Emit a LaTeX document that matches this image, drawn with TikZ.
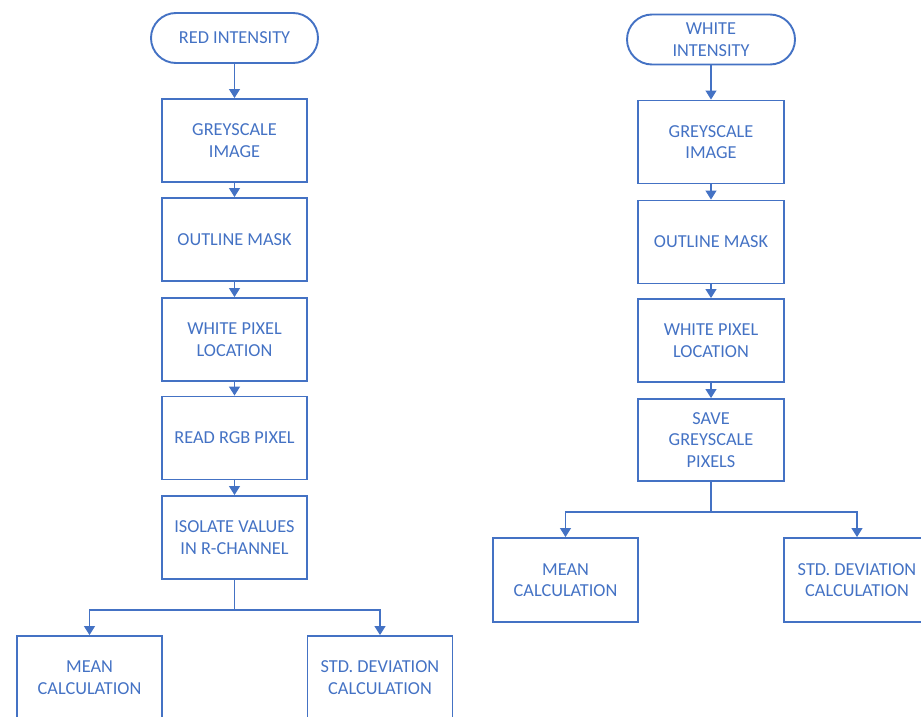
\documentclass[tikz,border=0pt]{standalone}
\usepackage{fontspec}
\setmainfont{Carlito}
\usetikzlibrary{arrows.meta}
\definecolor{flowblue}{HTML}{4472C4}
\tikzset{
  base/.style={draw=flowblue, line width=1.9pt, text=flowblue, align=center,
    font=\fontsize{18.3pt}{21.5pt}\selectfont, inner sep=0pt},
  procbox/.style={base, rectangle, minimum width=145pt, minimum height=83pt},
  termbox/.style={base, rectangle, rounded corners=25pt, minimum width=167pt, minimum height=50pt},
  link/.style={draw=flowblue, line width=1.1pt},
  arr/.style={link, -{Triangle[width=11pt,length=9pt]}}
}
\begin{document}
\begin{tikzpicture}[x=1pt, y=-1pt]
\useasboundingbox (0,0) rectangle (921,717);

% red intensity chain
\node[termbox] (t1) at (234.5,38) {RED INTENSITY};
\node[procbox] (g1) at (234.5,140.5) {GREYSCALE\\IMAGE};
\node[procbox] (o1) at (234.5,239.5) {OUTLINE MASK};
\node[procbox] (w1) at (234.5,339.5) {WHITE PIXEL\\LOCATION};
\node[procbox] (r1) at (234.5,438) {READ RGB PIXEL};
\node[procbox] (i1) at (234.5,537.5) {ISOLATE VALUES\\IN R-CHANNEL};
\node[procbox] (m1) at (89.5,677.5) {MEAN\\CALCULATION};
\node[procbox] (s1) at (380,677.5) {STD. DEVIATION\\CALCULATION};
\coordinate (b1) at (234.5,610);

\draw[arr] (t1) -- (g1);
\draw[arr] (g1) -- (o1);
\draw[arr] (o1) -- (w1);
\draw[arr] (w1) -- (r1);
\draw[arr] (r1) -- (i1);
\draw[link] (i1) -- (b1);
\draw[arr] (b1) -| (m1.north);
\draw[arr] (b1) -| (s1.north);

% white intensity chain
\node[termbox, minimum width=168pt] (t2) at (711,39.5) {WHITE\\INTENSITY};
\node[procbox, minimum width=146pt] (g2) at (711,142) {GREYSCALE\\IMAGE};
\node[procbox, minimum width=146pt] (o2) at (711,242) {OUTLINE MASK};
\node[procbox, minimum width=146pt] (w2) at (711,340.5) {WHITE PIXEL\\LOCATION};
\node[procbox, minimum width=146pt, minimum height=82pt] (v2) at (711,440) {SAVE\\GREYSCALE\\PIXELS};
\node[procbox, minimum height=84pt] (m2) at (565.5,580) {MEAN\\CALCULATION};
\node[procbox, minimum width=146pt, minimum height=84pt] (s2) at (857,580) {STD. DEVIATION\\CALCULATION};
\coordinate (b2) at (711,512);

\draw[arr] (t2) -- (g2);
\draw[arr] (g2) -- (o2);
\draw[arr] (o2) -- (w2);
\draw[arr] (w2) -- (v2);
\draw[link] (v2) -- (b2);
\draw[arr] (b2) -| (m2.north);
\draw[arr] (b2) -| (s2.north);
\end{tikzpicture}
\end{document}
